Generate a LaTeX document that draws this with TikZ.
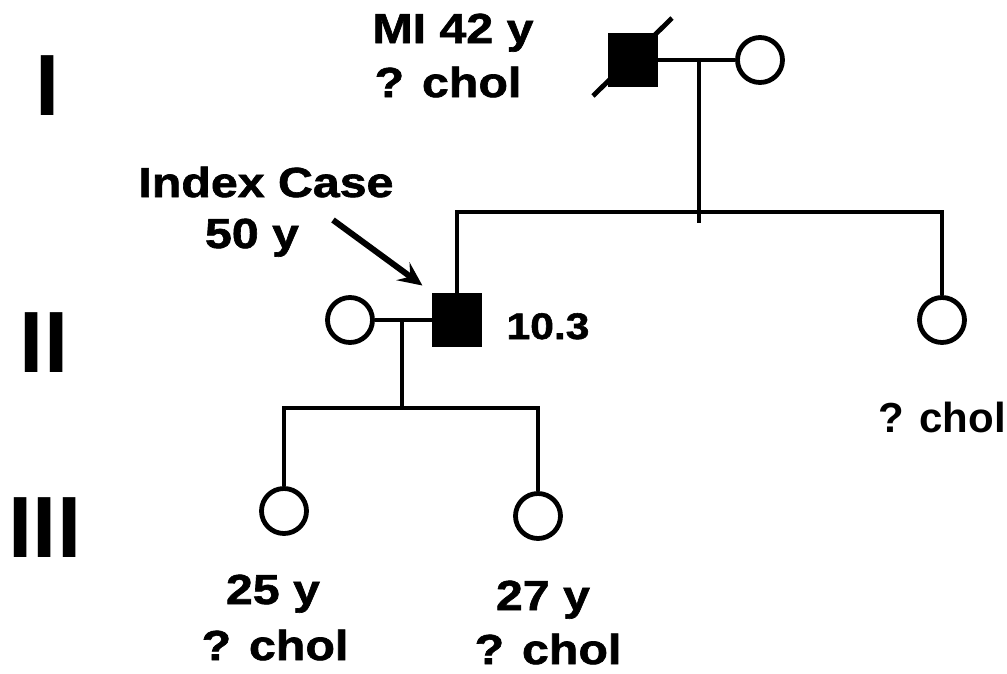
\documentclass[tikz,border=0pt]{standalone}
\usepackage{fontspec}
\setmainfont{Liberation Sans}
\newfontfamily\labelfont[FakeStretch=1.15, FakeBold=1.5]{Liberation Sans}
\usetikzlibrary{arrows.meta}

\begin{document}
\begin{tikzpicture}[
  x=1pt, y=-1pt,
  line width=4.8pt,
  male/.style={draw, fill=black, rectangle, minimum width=45pt, minimum height=50pt, inner sep=0pt},
  female/.style={draw, circle, minimum size=45pt, inner sep=0pt},
  lbl/.style={anchor=base, inner sep=0pt, font=\labelfont\bfseries\fontsize{42}{50}\selectfont},
  gen/.style={anchor=base, inner sep=0pt, font=\bfseries\fontsize{87}{100}\selectfont},
  arr/.style={line width=6pt, -{Stealth[length=24pt, width=22pt, inset=9pt]}}
]
\useasboundingbox (0,0) rectangle (1007,673);

% generations
\node[gen] (gI)   at (47.5,115) {I};
\node[gen] (gII)  at (44,372)   {II};
\node[gen] (gIII) at (45,557)   {III};

% generation I
\node[male]   (F1) at (633,60) {};
\node[female] (M1) at (760,60) {};
\coordinate (dA) at (593,96);
\coordinate (dB) at (672,18);
\draw (dA) -- (dB);
\draw (F1.east) -- (M1.west);
\coordinate (c1) at (699,60);
\coordinate (t1) at (699,223);
\coordinate (sib1) at (699,212);
\draw (c1) -- (t1);
\node[lbl] (lbMI)  at (453,43) {MI 42 y};
\node[lbl] (lbMIb) at (448,97) {? chol};

% generation II
\node[male]   (P2) at (457,320) {};
\node[female] (W2) at (350,320) {};
\node[female] (S2) at (942,320) {};
\draw (P2.north) |- (sib1) -| (S2.north);
\draw (W2.east) -- (P2.west);
\coordinate (c2) at (402,320);
\coordinate (sib2) at (402,408);
\draw (c2) -- (sib2);
\node[lbl] (lbIdx)  at (266,197) {Index Case};
\node[lbl] (lbIdxb) at (252,248) {50 y};
\coordinate (ar) at (333,220);
\draw[arr, shorten >=12pt] (ar) -- (P2.north west);
\node[lbl, font=\labelfont\bfseries\fontsize{37}{44}\selectfont] (lbP2) at (548,339) {10.3};
\node[lbl, font=\bfseries\fontsize{42}{50}\selectfont] (lbS2) at (942,432) {? chol};

% generation III
\node[female] (D3a) at (284,511) {};
\node[female] (D3b) at (538,516) {};
\draw (D3a.north) |- (sib2) -| (D3b.north);
\node[lbl] (lbD3a)  at (273,604) {25 y};
\node[lbl] (lbD3ab) at (275,660) {? chol};
\node[lbl] (lbD3b)  at (543,610) {27 y};
\node[lbl] (lbD3bb) at (548,664) {? chol};
\end{tikzpicture}
\end{document}
